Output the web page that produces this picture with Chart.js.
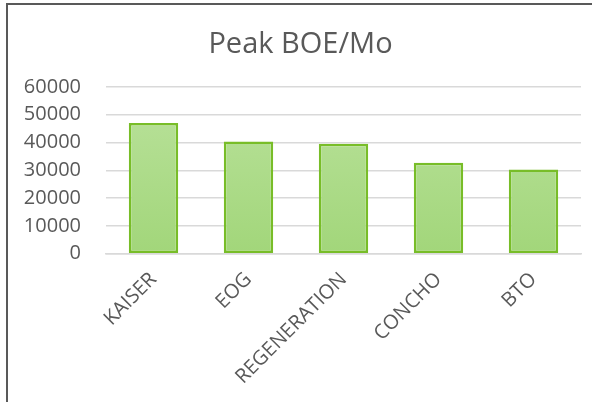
<!DOCTYPE html>
<html>
<head>
<meta charset="utf-8">
<script src="https://cdn.jsdelivr.net/npm/chart.js@4.4.1/dist/chart.umd.min.js"></script>
<style>
    body { margin: 0; background: #fff; }
    #wrap { position: relative; width: 592px; height: 402px; overflow: hidden; }
    #frame { position: absolute; left: 6px; top: 3px; width: 700px; height: 500px;
             border-left: 2px solid #595959; border-top: 2px solid #595959; }
    canvas { position: absolute; left: 0; top: 0; }
</style>
</head>
<body>
<div id="wrap">
    <div id="frame"></div>
    <canvas id="peakChart" width="592" height="402"></canvas>
</div>
<script>
    const companies = ["KAISER", "EOG", "REGENERATION", "CONCHO", "BTO"];
    const peak_boe = [47000, 40300, 39500, 32700, 30300];
    const y_ticks = [0, 10000, 20000, 30000, 40000, 50000, 60000];

    const text_color = "#595959";
    const grid_color = "#d9d9d9";

    // light to slightly darker green, top to bottom
    function bar_fill(context) {
        const area = context.chart.chartArea;
        if (!area) {
            return "#b0dc8e";
        }
        const grad = context.chart.ctx.createLinearGradient(0, area.top, 0, area.bottom);
        grad.addColorStop(0, "#bae29c");
        grad.addColorStop(1, "#a2d67a");
        return grad;
    }

    new Chart(document.getElementById("peakChart"), {
        type: "bar",
        data: {
            labels: companies,
            datasets: [
            {
                data: peak_boe,
                backgroundColor: bar_fill,
                borderColor: "#78bd28",
                borderWidth: 2.5,
                borderSkipped: false,
                categoryPercentage: 1,
                barPercentage: 0.52,
            },
            ],
        },
        options: {
            responsive: false,
            animation: false,
            layout: { padding: { left: 20, right: 11, top: 20, bottom: 7 } },
            plugins: {
                legend: { display: false },
                tooltip: { enabled: false },
                title: {
                    display: true,
                    text: "Peak BOE/Mo",
                    color: text_color,
                    font: { family: "'Open Sans'", size: 29, weight: "normal" },
                    padding: { top: 7, bottom: 25 },
                },
            },
            scales: {
                y: {
                    min: y_ticks[0],
                    max: y_ticks[y_ticks.length - 1],
                    afterBuildTicks: function (axis) {
                        axis.ticks = y_ticks.map(function (v) { return { value: v }; });
                    },
                    afterFit: function (axis) {
                        axis.width = 86;
                    },
                    border: { display: false },
                    grid: { color: grid_color, lineWidth: 1.5, drawTicks: false },
                    ticks: {
                        color: text_color,
                        padding: 25,
                        font: { family: "'Open Sans'", size: 20 },
                        callback: function (v) { return String(v); },
                    },
                },
                x: {
                    border: { color: grid_color, width: 1.5 },
                    grid: { display: false },
                    afterFit: function (axis) {
                        axis.paddingLeft = 0;
                        axis.paddingRight = 0;
                    },
                    ticks: {
                        color: text_color,
                        minRotation: 45,
                        maxRotation: 45,
                        padding: 6,
                        font: { family: "'Open Sans'", size: 20 },
                    },
                },
            },
        },
    });
</script>
</body>
</html>
